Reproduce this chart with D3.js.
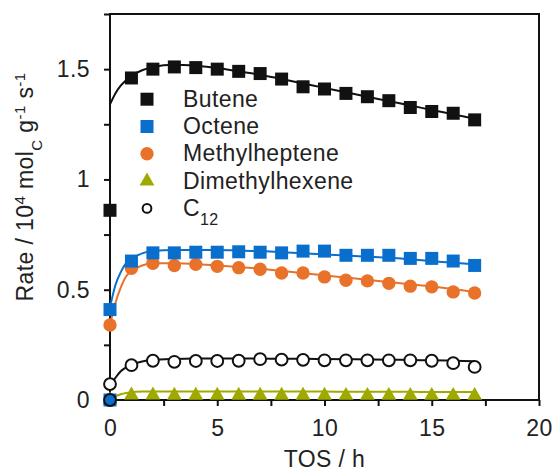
<!DOCTYPE html>
<html><head><meta charset="utf-8">
<script src="https://cdn.jsdelivr.net/npm/d3@7"></script>
<style>body{margin:0;background:#fff;} svg{display:block;} text{font-family:"Liberation Sans",Arial,sans-serif;fill:#222;letter-spacing:0.4px;}</style>
</head><body>
<svg id="c" width="553" height="474"></svg>
<script>
// ---- data ----
const tos = [0,1,2,3,4,5,6,7,8,9,10,11,12,13,14,15,16,17];
const butene = [0.86,1.46,1.50,1.51,1.507,1.50,1.49,1.48,1.455,1.42,1.41,1.39,1.375,1.357,1.326,1.308,1.30,1.27];
const octene = [0.41,0.63,0.667,0.667,0.67,0.67,0.672,0.67,0.667,0.675,0.675,0.656,0.656,0.656,0.642,0.642,0.63,0.61];
const methylheptene = [0.34,0.597,0.62,0.61,0.615,0.606,0.60,0.593,0.576,0.576,0.558,0.543,0.54,0.529,0.516,0.513,0.49,0.485];
const dimethylhexene = [0,0.022,0.022,0.021,0.021,0.021,0.021,0.021,0.021,0.021,0.021,0.02,0.02,0.02,0.02,0.02,0.02,0.02];
const c12 = [0.072,0.158,0.178,0.173,0.177,0.177,0.178,0.185,0.183,0.182,0.18,0.18,0.18,0.18,0.18,0.178,0.167,0.15];
// extra points at t = 0 lying on zero
const zeroPoints = [0];

// fitted curves (t, value)
const fitT = [0,0.25,0.5,0.75,1,1.5,2,3,4,5,6,7,8,9,10,11,12,13,14,15,16,17];
const fitButene = [1.34,1.39,1.425,1.45,1.47,1.495,1.51,1.52,1.515,1.505,1.49,1.475,1.455,1.435,1.415,1.395,1.375,1.355,1.335,1.315,1.295,1.275];
const fitOctene = [0.42,0.52,0.58,0.62,0.64,0.665,0.675,0.68,0.68,0.68,0.678,0.675,0.67,0.665,0.66,0.655,0.65,0.645,0.638,0.63,0.622,0.615];
const fitMethyl = [0.34,0.44,0.51,0.56,0.585,0.61,0.62,0.62,0.617,0.61,0.603,0.595,0.585,0.575,0.565,0.555,0.545,0.535,0.525,0.515,0.503,0.49];
const fitDimethyl = [0,0.016,0.026,0.032,0.035,0.038,0.039,0.039,0.039,0.039,0.039,0.038,0.038,0.038,0.038,0.037,0.037,0.037,0.037,0.036,0.036,0.036];
const fitC12 = [0.065,0.1,0.13,0.148,0.16,0.175,0.181,0.186,0.188,0.188,0.188,0.188,0.187,0.187,0.186,0.185,0.184,0.183,0.181,0.18,0.178,0.176];

const xTicks = [0,5,10,15,20];
const xMinor = d3.range(0,20.01,2.5);
const yTicks = [0,0.5,1,1.5];
const yMinor = d3.range(0,1.751,0.25);

const colors = {black:"#111", blue:"#0a6fcc", orange:"#e8722a", olive:"#9eaa00"};
const FS = 23;

// ---- layout ----
const svg = d3.select("#c");
const L=110, R=539, T=14, B=400;
const x = d3.scaleLinear().domain([0,20]).range([L,R]);
const y = d3.scaleLinear().domain([0,1.75]).range([B,T]);

// frame
svg.append("rect").attr("x",L).attr("y",T).attr("width",R-L).attr("height",B-T)
  .attr("fill","none").attr("stroke","#111").attr("stroke-width",2);

// axes
const xa = svg.append("g").attr("transform",`translate(0,${B})`)
  .call(d3.axisBottom(x).tickValues(xMinor).tickSize(6).tickFormat(""));
xa.select(".domain").remove();
xa.selectAll("line").attr("stroke","#111").attr("stroke-width",2);
const xl = svg.append("g").attr("transform",`translate(0,${B})`)
  .call(d3.axisBottom(x).tickValues(xTicks).tickSize(0).tickPadding(20).tickFormat(d3.format("d")));
xl.select(".domain").remove();
xl.selectAll("text").attr("font-size",FS).attr("fill","#222").attr("font-family",null);

const ya = svg.append("g").attr("transform",`translate(${L},0)`)
  .call(d3.axisLeft(y).tickValues(yMinor).tickSize(6).tickFormat(""));
ya.select(".domain").remove();
ya.selectAll("line").attr("stroke","#111").attr("stroke-width",2);
const yl = svg.append("g").attr("transform",`translate(${L},0)`)
  .call(d3.axisLeft(y).tickValues(yTicks).tickSize(0).tickPadding(20).tickFormat(d=>String(d)));
yl.select(".domain").remove();
yl.selectAll("text").attr("font-size",FS).attr("fill","#222").attr("font-family",null);

// axis titles
svg.append("text").attr("x",(L+R)/2).attr("y",467).attr("text-anchor","middle")
  .attr("font-size",FS).text("TOS / h");
const yt = svg.append("text").attr("transform","translate(33,187) rotate(-90)")
  .attr("text-anchor","middle").attr("font-size",FS);
yt.append("tspan").text("Rate / 10");
yt.append("tspan").attr("baseline-shift","super").attr("font-size",15).text("4");
yt.append("tspan").text(" mol");
yt.append("tspan").attr("baseline-shift","sub").attr("font-size",15).text("C");
yt.append("tspan").text(" g");
yt.append("tspan").attr("baseline-shift","super").attr("font-size",15).text("-1");
yt.append("tspan").text(" s");
yt.append("tspan").attr("baseline-shift","super").attr("font-size",15).text("-1");

// curves
const line = d3.line().x(d=>x(d[0])).y(d=>y(d[1])).curve(d3.curveMonotoneX);
function fit(vals,col){
  svg.append("path").datum(fitT.map((t,i)=>[t,vals[i]])).attr("d",line)
    .attr("fill","none").attr("stroke",col).attr("stroke-width",2);
}

const sq = d3.symbol().type(d3.symbolSquare).size(169);
const ci = d3.symbol().type(d3.symbolCircle).size(140);
const tr = d3.symbol().type(d3.symbolTriangle).size(95);
const oc = d3.symbol().type(d3.symbolCircle).size(110);

function pts(vals,sym,fill,stroke,sw){
  svg.append("g").selectAll("path").data(tos.map((t,i)=>[t,vals[i]])).join("path")
    .attr("transform",d=>`translate(${x(d[0])},${y(d[1])})`).attr("d",sym)
    .attr("fill",fill).attr("stroke",stroke||"none").attr("stroke-width",sw||0);
}

fit(fitDimethyl,colors.olive);
pts(dimethylhexene,tr,colors.olive);
fit(fitC12,colors.black);
pts(c12,oc,"#fff",colors.black,2);
fit(fitMethyl,colors.orange);
pts(methylheptene,ci,colors.orange);
fit(fitOctene,colors.blue);
pts(octene,sq,colors.blue);
fit(fitButene,colors.black);
pts(butene,sq,colors.black);

// points on zero at t=0
svg.append("g").selectAll("path").data(zeroPoints).join("path")
  .attr("transform",d=>`translate(${x(0)},${y(d)})`).attr("d",sq).attr("fill",colors.blue);
svg.append("g").selectAll("path").data(zeroPoints).join("path")
  .attr("transform",d=>`translate(${x(0)},${y(d)})`).attr("d",oc)
  .attr("fill",colors.blue).attr("stroke",colors.black).attr("stroke-width",2);

// legend
const legend = [
  {name:"Butene", sym:sq, fill:colors.black},
  {name:"Octene", sym:sq, fill:colors.blue},
  {name:"Methylheptene", sym:ci, fill:colors.orange},
  {name:"Dimethylhexene", sym:tr, fill:colors.olive},
  {name:"C", sub:"12", sym:d3.symbol().type(d3.symbolCircle).size(60), fill:"#fff", stroke:colors.black}
];
const lg = svg.append("g");
legend.forEach((d,i)=>{
  const base = 106.7 + i*27.3;
  const cy = base - 7.5;
  lg.append("path").attr("transform",`translate(147,${cy})`).attr("d",d.sym)
    .attr("fill",d.fill).attr("stroke",d.stroke||"none").attr("stroke-width",d.stroke?2:0);
  const t = lg.append("text").attr("x",183).attr("y",base).attr("font-size",FS).text(d.name);
  if(d.sub) t.append("tspan").attr("baseline-shift","sub").attr("font-size",16).text(d.sub);
});
</script>
</body></html>
